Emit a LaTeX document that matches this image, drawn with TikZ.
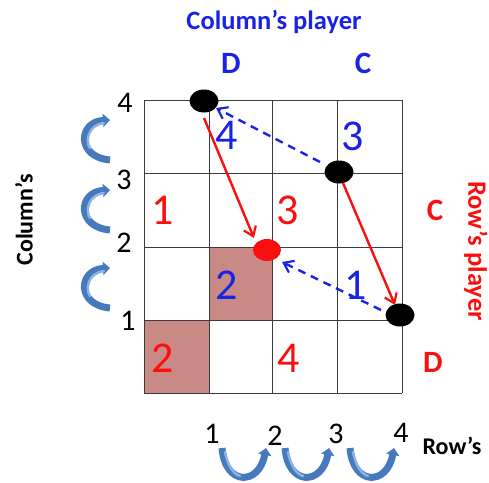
\documentclass[tikz,border=0pt]{standalone}
\usepackage{fontspec}
\setmainfont{Carlito}
\usetikzlibrary{arrows.meta,shapes.geometric,calc}
\definecolor{myblue}{RGB}{25,35,230}
\definecolor{myred}{RGB}{250,15,15}
\definecolor{cellfill}{RGB}{201,138,134}
\definecolor{curvblue}{RGB}{70,122,188}
\definecolor{curvlight}{RGB}{140,180,226}
\definecolor{gridc}{RGB}{60,60,60}
\tikzset{
  gridline/.style={draw=gridc, line width=0.9pt},
  bigdot/.style={ellipse, fill=black, minimum width=29pt, minimum height=23pt, inner sep=0pt},
  reddot/.style={ellipse, fill=myred, minimum width=28pt, minimum height=22pt, inner sep=0pt},
  redarr/.style={draw=myred, line width=2.4pt, -{Straight Barb[length=9pt,width=13pt,line width=2.2pt]}},
  bluearr/.style={draw=myblue, line width=2.4pt, dash pattern=on 8pt off 6pt, -{Straight Barb[length=9pt,width=13pt,line width=2.2pt]}},
  cellnum/.style={font=\fontsize{44}{44}\selectfont, inner sep=0pt},
  axnum/.style={font=\fontsize{30}{30}\selectfont, inner sep=0pt, text=black},
  lab/.style={font=\fontsize{24}{24}\selectfont\bfseries, inner sep=0pt},
  biglab/.style={font=\fontsize{26.5}{26.5}\selectfont\bfseries, inner sep=0pt},
  strat/.style={font=\fontsize{31}{31}\selectfont\bfseries, inner sep=0pt},
  curv/.style={draw=curvblue, line width=7pt, -{Triangle[length=7pt,width=13pt]}},
  curvhl/.style={draw=curvlight, line width=2.5pt, line cap=round}
}
\begin{document}
\begin{tikzpicture}[x=1pt,y=-1pt]
\path[use as bounding box] (0,0) rectangle (489,482);
% shaded cells
\fill[cellfill] (144,320) rectangle (209,393);
\fill[cellfill] (209,247) rectangle (272,320);
% grid
\foreach \x in {144,209,272,337,402} \draw[gridline] (\x,100) -- (\x,393);
\foreach \y in {100,173,247,320,393} \draw[gridline] (144,\y) -- (402,\y);
% titles
\node[biglab, text=myblue] (ctitle) at (274,22) {Column’s player};
\node[strat, text=myblue] (cD) at (231,63) {D};
\node[strat, text=myblue] (cC) at (363,63) {C};
\node[strat, text=myred] (rC) at (435,210) {C};
\node[strat, text=myred] (rD) at (433,362) {D};
\node[biglab, text=myred, rotate=-90] (rtitle) at (476,251) {Row’s player};
\node[lab, text=black, rotate=90] (ctitle2) at (24,220) {Column’s};
\node[lab, text=black] (rowlab) at (452,446) {Row’s};
% cell numbers
\node[cellnum, text=myblue] (n1) at (227,135) {4};
\node[cellnum, text=myblue] (n2) at (353,136) {3};
\node[cellnum, text=myred] (n3) at (163,210) {1};
\node[cellnum, text=myred] (n4) at (288,210) {3};
\node[cellnum, text=myblue] (n5) at (227,285) {2};
\node[cellnum, text=myblue] (n6) at (356,285) {1};
\node[cellnum, text=myred] (n7) at (163,358) {2};
\node[cellnum, text=myred] (n8) at (289,358) {4};
% axis numbers
\node[axnum] (l4) at (125,103) {4};
\node[axnum] (l3) at (124,180) {3};
\node[axnum] (l2) at (124,243) {2};
\node[axnum] (l1) at (128,321) {1};
\node[axnum] (b1) at (212,434) {1};
\node[axnum] (b2) at (275,436) {2};
\node[axnum] (b3) at (336,434) {3};
\node[axnum] (b4) at (401,433) {4};
% curved arrows left
\foreach \c/\nm in {139/la,209/lb,287/lc}{
  \coordinate (\nm s) at (110,\c+21);
  \coordinate (\nm e) at (110,\c-19);
  \draw[curv] (\nm s) .. controls (76,\c+18) and (78,\c-17) .. (\nm e);
  \draw[curvhl] (104,\c-16) .. controls (88,\c-14) and (85,\c+2) .. (90,\c+9);
}
% curved arrows bottom
\foreach \c/\nm in {244/ba,307/bb,372/bc}{
  \coordinate (\nm s) at (\c-22,448);
  \coordinate (\nm e) at (\c+22,448);
  \draw[curv] (\nm s) .. controls (\c-19,486) and (\c+15,486) .. (\nm e);
  \draw[curvhl] (\c-19,452) .. controls (\c-16,467) and (\c-10,474) .. (\c-4,476);
}
% dots
\node[bigdot] (A) at (204,101) {};
\node[bigdot] (B) at (339,172) {};
\node[bigdot] (D) at (400,315) {};
\node[reddot] (R) at (267,250) {};
% arrows
\draw[redarr] ($(A)+(0,17)$) -- ($(R)+(-13,-12)$);
\draw[redarr] ($(B)+(4,11)$) -- ($(D)+(-5,-10)$);
\draw[bluearr] ($(B)+(-19,-10)$) -- ($(A)+(12,7)$);
\draw[bluearr] ($(D)+(-19,-5)$) -- ($(R)+(15,12)$);
\end{tikzpicture}
\end{document}
